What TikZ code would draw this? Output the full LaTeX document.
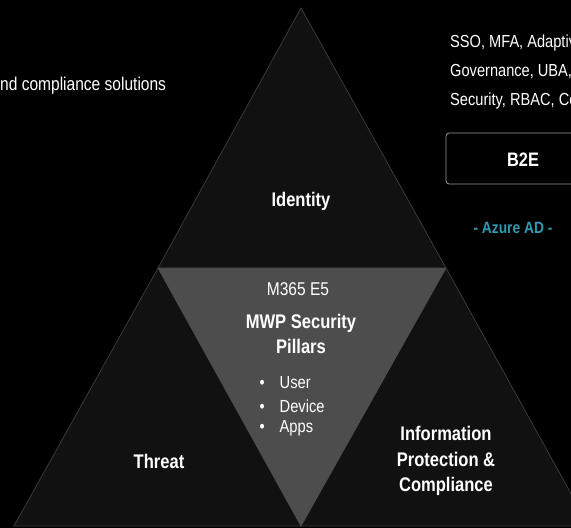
\documentclass[tikz,border=0pt]{standalone}
\usepackage{fontspec}
\setmainfont{Liberation Sans}[FakeStretch=0.84]
\usepackage{tikz}
\definecolor{pillar}{HTML}{111111}
\definecolor{pillaredge}{HTML}{3A3A3A}
\definecolor{core}{HTML}{4D4D4D}
\definecolor{azure}{HTML}{2F9AB2}
\tikzset{
  pillar/.style={fill=pillar, draw=pillaredge, line width=0.8pt},
  title/.style={text=white, font=\bfseries\fontsize{19.7}{25.5}\selectfont, align=center},
  plain/.style={text=white, font=\fontsize{18.5}{22}\selectfont},
  side/.style={text=white, font=\fontsize{17.4}{22}\selectfont, anchor=west, inner sep=0pt},
  item/.style={text=white, font=\fontsize{17.5}{20}\selectfont, anchor=west}
}

\begin{document}
\begin{tikzpicture}[x=1pt,y=-1pt]
\fill[black] (0,0) rectangle (571,528);
\useasboundingbox (0,0) rectangle (571,528);
\clip (0,0) rectangle (571,528);
\coordinate (apex) at (301,8);
\coordinate (midL) at (158,268);
\coordinate (midR) at (446,268);
\coordinate (bot) at (301,526);
\coordinate (botL) at (14,526);
\coordinate (botR) at (589,526);
\draw[pillar] (apex) -- (midR) -- (midL) -- cycle;
\draw[pillar] (midL) -- (bot) -- (botL) -- cycle;
\draw[pillar] (midR) -- (botR) -- (bot) -- cycle;
\draw[fill=core, draw=core] (midL) -- (midR) -- (bot) -- cycle;
\node[title] (identity) at (301,201) {Identity};
\node[title] (threat) at (159,461) {Threat};
\node[title] (infoprot) at (446,461) {Information\\Protection \&\\Compliance};
\node[plain] (e5) at (298,289) {M365 E5};
\node[title] (mwp) at (301,334) {MWP Security\\Pillars};
\node[item] (user) at (256,383) {\textbullet\hspace{15pt}User};
\node[item] (device) at (256,406) {\textbullet\hspace{15pt}Device};
\node[item] (apps) at (256,428) {\textbullet\hspace{15pt}Apps};
\node[plain, anchor=west, inner sep=0pt] (solutions) at (0,86) {nd compliance solutions};
\node[side] (sso) at (450,43) {SSO, MFA, Adaptiv};
\node[side] (gov) at (450,72) {Governance, UBA,};
\node[side] (sec) at (450,101) {Security, RBAC, Co};
\draw[draw=gray!80, line width=0.8pt, rounded corners=3pt] (446,133) rectangle (600,184);
\node[title, font=\bfseries\fontsize{19.5}{22}\selectfont] (b2e) at (523,160) {B2E};
\node[text=azure, font=\bfseries\fontsize{16.4}{20}\selectfont] (azure) at (513,228) {- Azure AD -};
\end{tikzpicture}
\end{document}
